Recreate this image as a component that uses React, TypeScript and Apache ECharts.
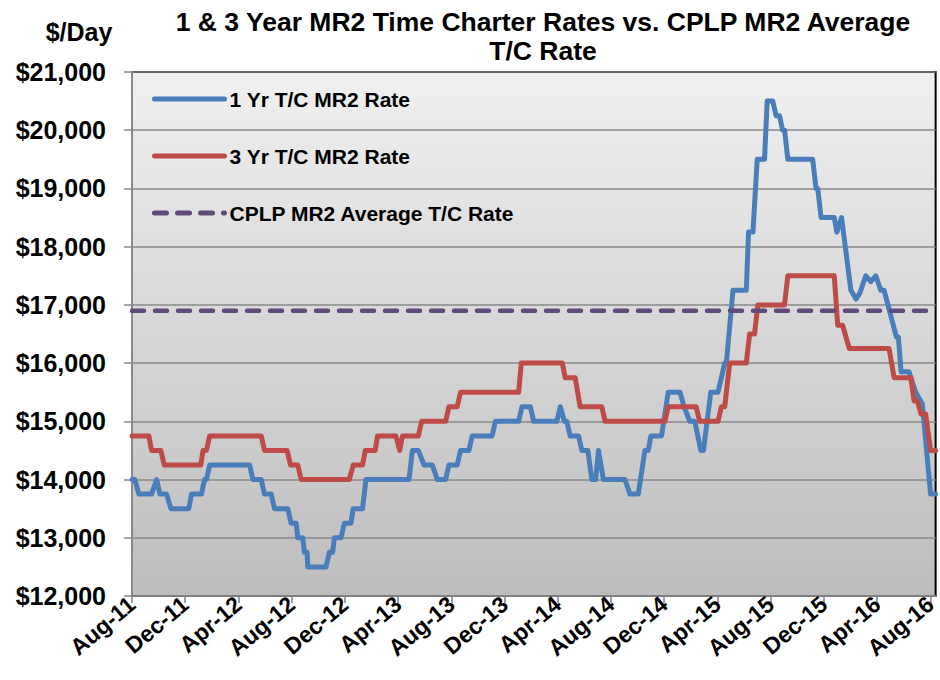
import React, { useEffect, useRef } from 'react';
import * as echarts from 'echarts';

const FONT = '"Liberation Sans", Arial, Helvetica, sans-serif';

const chartTitle = '1 & 3 Year MR2 Time Charter Rates vs. CPLP MR2 Average\nT/C Rate';
const unitLabel = '$/Day';

// Month offsets since Aug-11 for each category tick, with their labels
const tickLabels = [
  'Aug-11', 'Dec-11', 'Apr-12', 'Aug-12', 'Dec-12', 'Apr-13', 'Aug-13', 'Dec-13',
  'Apr-14', 'Aug-14', 'Dec-14', 'Apr-15', 'Aug-15', 'Dec-15', 'Apr-16', 'Aug-16',
];
const tickMonths = tickLabels.map((_, i) => i * 4);

const seriesNames = ['1 Yr T/C MR2 Rate', '3 Yr T/C MR2 Rate', 'CPLP MR2 Average T/C Rate'];

// [months since Aug-11, $/day]
const oneYearRate: [number, number][] = [
  [0, 14000], [0.22, 14000], [0.52, 13750], [1.47, 13750], [1.85, 14000], [2.1, 13750],
  [2.6, 13750], [2.92, 13500], [4.27, 13500], [4.47, 13750], [5.22, 13750], [5.45, 14000],
  [5.6, 14000], [5.84, 14250], [8.84, 14250], [9.09, 14000], [9.71, 14000], [9.96, 13750],
  [10.46, 13750], [10.71, 13500], [11.71, 13500], [11.96, 13250], [12.34, 13250], [12.46, 13000],
  [12.83, 13000], [12.96, 12750], [13.16, 12750], [13.21, 12500], [14.58, 12500], [14.83, 12750],
  [15.08, 12750], [15.21, 13000], [15.71, 13000], [15.96, 13250], [16.46, 13250], [16.62, 13500],
  [17.33, 13500], [17.58, 14000], [20.82, 14000], [21.07, 14500], [21.52, 14500], [21.95, 14250],
  [22.57, 14250], [22.95, 14000], [23.57, 14000], [23.82, 14250], [24.44, 14250], [24.69, 14500],
  [25.32, 14500], [25.57, 14750], [27.06, 14750], [27.32, 15000], [29.06, 15000], [29.31, 15250],
  [29.94, 15250], [30.19, 15000], [31.93, 15000], [32.19, 15250], [32.5, 15000], [32.68, 15000],
  [32.93, 14750], [33.56, 14750], [33.81, 14500], [34.26, 14500], [34.56, 14000], [34.85, 14000],
  [35.06, 14500], [35.43, 14000], [37.05, 14000], [37.43, 13750], [38.05, 13750], [38.55, 14500],
  [38.8, 14500], [39.0, 14750], [39.8, 14750], [40.3, 15500], [41.18, 15500], [41.5, 15250],
  [41.92, 15000], [42.3, 15000], [42.75, 14500], [42.95, 14500], [43.5, 15500], [44.04, 15500],
  [44.3, 15750], [44.55, 16000], [44.67, 16000], [45.17, 17250], [46.17, 17250], [46.34, 18250],
  [46.67, 18250], [46.99, 19500], [47.54, 19500], [47.74, 20500], [48.16, 20500], [48.41, 20250],
  [48.67, 20250], [48.9, 20000], [49.05, 20000], [49.29, 19500], [51.16, 19500], [51.41, 19000],
  [51.54, 19000], [51.79, 18500], [52.78, 18500], [52.98, 18250], [53.33, 18500], [54.03, 17250],
  [54.41, 17100], [54.7, 17200], [55.15, 17500], [55.53, 17400], [55.9, 17500], [56.28, 17250],
  [56.53, 17250], [57.45, 16450], [57.6, 16450], [57.8, 15850], [58.4, 15850], [58.9, 15500],
  [59.4, 15300], [60.02, 13750], [60.4, 13750],
];

const threeYearRate: [number, number][] = [
  [0, 14750], [1.27, 14750], [1.47, 14500], [2.17, 14500], [2.42, 14250], [5.17, 14250],
  [5.34, 14500], [5.59, 14500], [5.84, 14750], [9.71, 14750], [9.96, 14500], [11.66, 14500],
  [11.91, 14250], [12.46, 14250], [12.71, 14000], [16.33, 14000], [16.63, 14250], [17.33, 14250],
  [17.53, 14500], [18.28, 14500], [18.45, 14750], [19.83, 14750], [20.12, 14500], [20.33, 14750],
  [21.52, 14750], [21.77, 15000], [23.57, 15000], [23.82, 15250], [24.44, 15250], [24.69, 15500],
  [29.06, 15500], [29.26, 16000], [32.34, 16000], [32.56, 15750], [33.31, 15750], [33.68, 15250],
  [35.31, 15250], [35.56, 15000], [40.05, 15000], [40.3, 15250], [42.4, 15250], [42.67, 15000],
  [44.04, 15000], [44.3, 15250], [44.55, 15250], [44.92, 16000], [46.17, 16000], [46.42, 16500],
  [46.79, 16500], [47.04, 17000], [49.04, 17000], [49.29, 17500], [52.78, 17500], [53.04, 16650],
  [53.41, 16650], [53.91, 16250], [56.9, 16250], [57.28, 15750], [58.53, 15750], [58.78, 15350],
  [59.03, 15350], [59.3, 15125], [59.65, 15125], [60.02, 14500], [60.4, 14500],
];

const cplpAverage: [number, number][] = [[0, 16900], [60, 16900]];

const xMax = 60.4;
const yMin = 12000;
const yMax = 21000;
const yStep = 1000;

export default function App() {
  const ref = useRef<HTMLDivElement>(null);

  useEffect(() => {
    document.body.style.margin = '0';
    const chart = echarts.init(ref.current!, null, { renderer: 'svg' });
    const bold = { fontFamily: FONT, fontWeight: 'bold' as const, color: '#000' };
    chart.setOption({
      animation: false,
      textStyle: { fontFamily: FONT },
      graphic: [
        {
          type: 'text',
          x: 543,
          y: 36,
          style: {
            text: chartTitle,
            align: 'center',
            verticalAlign: 'middle',
            fontSize: 26.5,
            fontWeight: 'bold',
            fontFamily: FONT,
            lineHeight: 29,
            fill: '#000',
          },
        },
        {
          type: 'text',
          x: 79,
          y: 32,
          style: {
            text: unitLabel,
            align: 'center',
            verticalAlign: 'middle',
            fontSize: 25,
            fontWeight: 'bold',
            fontFamily: FONT,
            fill: '#000',
          },
        },
      ],
      grid: {
        left: 132,
        right: 2,
        top: 72,
        bottom: 84,
        show: true,
        backgroundColor: new echarts.graphic.LinearGradient(0, 0, 0, 1, [
          { offset: 0, color: '#F0F0F0' },
          { offset: 1, color: '#BDBDBD' },
        ]),
        borderColor: '#000',
        borderWidth: 2,
      },
      legend: {
        orient: 'vertical',
        left: 152,
        top: 87,
        padding: 0,
        itemWidth: 70,
        itemHeight: 14,
        itemGap: 33,
        data: seriesNames,
        itemStyle: { opacity: 0 },
        lineStyle: { width: 5, cap: 'round' },
        textStyle: { ...bold, fontSize: 21, lineHeight: 24 },
      },
      xAxis: {
        type: 'value',
        min: 0,
        max: xMax,
        axisLine: { show: true, onZero: false, lineStyle: { color: '#7f7f7f', width: 2 } },
        axisTick: {
          show: true,
          customValues: tickMonths,
          length: 7,
          lineStyle: { color: '#7f7f7f', width: 1.5 },
        },
        axisLabel: {
          customValues: tickMonths,
          formatter: (v: number) => tickLabels[Math.round(v / 4)] ?? '',
          rotate: 40,
          margin: 5,
          fontSize: 23,
          ...bold,
        },
        splitLine: { show: false },
      },
      yAxis: {
        type: 'value',
        min: yMin,
        max: yMax,
        interval: yStep,
        axisLine: { show: true, onZero: false, lineStyle: { color: '#8a8a8a', width: 2 } },
        axisTick: { show: true, length: 8, lineStyle: { color: '#8a8a8a', width: 1.5 } },
        axisLabel: {
          formatter: (v: number) => '$' + v.toLocaleString('en-US'),
          margin: 26,
          fontSize: 25,
          ...bold,
        },
        splitLine: { show: true, lineStyle: { color: '#888888', width: 1.5 } },
      },
      series: [
        {
          name: seriesNames[0],
          type: 'line',
          data: oneYearRate,
          symbol: 'none',
          showSymbol: false,
          itemStyle: { color: '#4A7EBB' },
          lineStyle: { color: '#4A7EBB', width: 5, cap: 'round', join: 'round' },
        },
        {
          name: seriesNames[1],
          type: 'line',
          data: threeYearRate,
          symbol: 'none',
          showSymbol: false,
          itemStyle: { color: '#BE4B48' },
          lineStyle: { color: '#BE4B48', width: 5, cap: 'round', join: 'round' },
        },
        {
          name: seriesNames[2],
          type: 'line',
          data: cplpAverage,
          symbol: 'none',
          showSymbol: false,
          itemStyle: { color: '#604A7B' },
          lineStyle: { color: '#604A7B', width: 4.5, type: [12, 11], cap: 'round' },
        },
      ],
    });
    return () => chart.dispose();
  }, []);

  return <div ref={ref} style={{ width: 940, height: 680 }} />;
}
